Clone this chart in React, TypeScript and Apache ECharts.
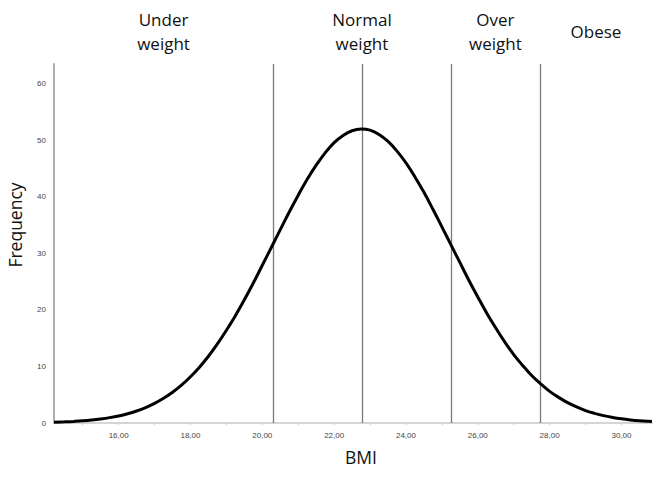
import React, { useEffect, useRef } from "react";
import * as echarts from "echarts";

const bmi = [14.2, 14.5, 14.75, 15, 15.25, 15.5, 15.75, 16, 16.25, 16.5, 16.75, 17, 17.25, 17.5, 17.75, 18, 18.25, 18.5, 18.75, 19, 19.25, 19.5, 19.75, 20, 20.25, 20.5, 20.75, 21, 21.25, 21.5, 21.75, 22, 22.25, 22.5, 22.75, 23, 23.25, 23.5, 23.75, 24, 24.25, 24.5, 24.75, 25, 25.25, 25.5, 25.75, 26, 26.25, 26.5, 26.75, 27, 27.25, 27.5, 27.75, 28, 28.25, 28.5, 28.75, 29, 29.25, 29.5, 29.75, 30, 30.25, 30.5, 30.75, 30.85];
const frequency = [0.13, 0.2, 0.28, 0.38, 0.52, 0.71, 0.95, 1.25, 1.64, 2.13, 2.73, 3.47, 4.37, 5.44, 6.7, 8.18, 9.88, 11.8, 13.98, 16.4, 18.99, 21.8, 24.77, 27.9, 31.04, 34.2, 37.32, 40.3, 43.1, 45.6, 47.78, 49.6, 50.87, 51.7, 52.0, 51.8, 51.04, 49.8, 48.09, 46.0, 43.52, 40.8, 37.81, 34.7, 31.54, 28.4, 25.26, 22.3, 19.43, 16.8, 14.34, 12.1, 10.17, 8.4, 6.93, 5.6, 4.53, 3.6, 2.84, 2.2, 1.71, 1.3, 0.99, 0.74, 0.55, 0.4, 0.29, 0.26];
const cutLines = [20.3, 22.77, 25.25, 27.73];
const groups = ["Under\nweight", "Normal\nweight", "Over\nweight", "Obese"];
const groupStart = [14.2, 20.3, 25.25, 27.73];
const groupEnd = [20.3, 25.25, 27.73, 30.85];
const xTicks = [16, 18, 20, 22, 24, 26, 28, 30];
const xMinorTicks = [15, 16, 17, 18, 19, 20, 21, 22, 23, 24, 25, 26, 27, 28, 29, 30];
const yTicks = [0, 10, 20, 30, 40, 50, 60];
const xMin = 14.2;
const xMax = 30.85;
const yMax = 63.5;

export default function App() {
  const ref = useRef<HTMLDivElement>(null);
  useEffect(() => {
    if (!ref.current) return;
    const chart = echarts.init(ref.current, undefined, { renderer: "svg" });
    const titleFont = "'Open Sans', 'Noto Sans', sans-serif";
    chart.setOption({
      animation: false,
      grid: { left: 54, right: 20, top: 64, bottom: 60 },
      graphic: [
        {
          type: "text",
          x: 15,
          y: 225,
          rotation: Math.PI / 2,
          style: {
            text: "Frequency",
            font: `17.5px ${titleFont}`,
            fill: "#111",
            align: "center",
            verticalAlign: "middle",
          },
        },
        {
          type: "text",
          x: 361,
          y: 457,
          style: {
            text: "BMI",
            font: `17.5px ${titleFont}`,
            fill: "#111",
            align: "center",
            verticalAlign: "middle",
          },
        },
      ],
      xAxis: {
        type: "value",
        min: xMin,
        max: xMax,
        splitLine: { show: false },
        axisLine: { lineStyle: { color: "#c8c8c8", width: 1.5 } },
        axisTick: {
          show: true,
          customValues: xMinorTicks,
          length: 2,
          lineStyle: { color: "#d0d0d0" },
        },
        axisLabel: {
          customValues: xTicks,
          formatter: (v: number) => v.toFixed(2).replace(".", ","),
          fontFamily: "'Liberation Sans', Arial, sans-serif",
          fontSize: 8,
          color: "#444",
          margin: 8,
        },
      },
      yAxis: {
        type: "value",
        min: 0,
        max: yMax,
        splitLine: { show: false },
        axisLine: { show: true, lineStyle: { color: "#b0b0b0", width: 2 } },
        axisTick: { show: false },
        axisLabel: {
          customValues: yTicks,
          fontFamily: "'Liberation Sans', Arial, sans-serif",
          fontSize: 8,
          color: "#444",
          margin: 8,
        },
      },
      series: [
        {
          type: "line",
          data: bmi.map((x, i) => [x, frequency[i]]),
          smooth: 0.4,
          showSymbol: false,
          lineStyle: { color: "#000", width: 3 },
          z: 3,
          markLine: {
            silent: true,
            symbol: "none",
            label: { show: false },
            lineStyle: { color: "#7a7a7a", width: 1.3, type: "solid" },
            data: cutLines.map((v) => ({ xAxis: v })),
            z: 2,
          },
          markArea: {
            silent: true,
            itemStyle: { color: "rgba(0,0,0,0)" },
            label: {
              show: true,
              position: "top",
              distance: 33,
              verticalAlign: "middle",
              align: "center",
              fontFamily: titleFont,
              fontSize: 17,
              lineHeight: 24,
              color: "#111",
            },
            data: groups.map((g, i) => [
              { name: g, xAxis: groupStart[i], yAxis: 0 },
              { xAxis: groupEnd[i], yAxis: yMax },
            ]),
          },
        },
      ],
    });
    return () => chart.dispose();
  }, []);
  return <div ref={ref} style={{ width: 672, height: 483, margin: -8 }} />;
}
